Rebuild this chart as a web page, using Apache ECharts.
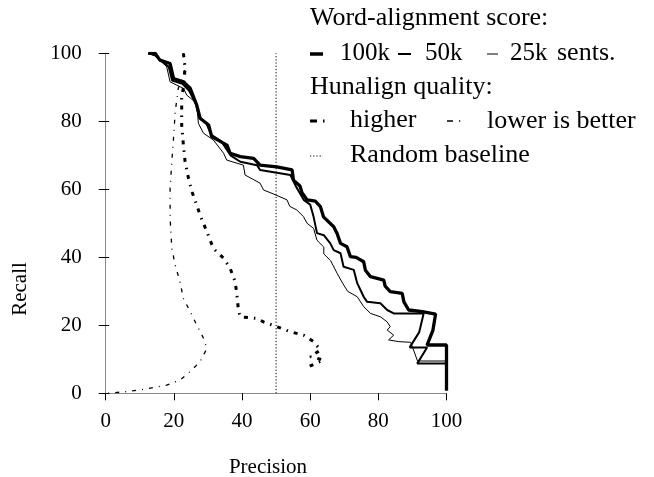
<!DOCTYPE html>
<html>
<head>
<meta charset="utf-8">
<script src="https://cdn.jsdelivr.net/npm/echarts@6/dist/echarts.min.js"></script>
<style>
html, body { margin: 0; padding: 0; background: #fff; }
#prChart { width: 654px; height: 477px; }
</style>
</head>
<body>
<div id="prChart"></div>
<script>
// precision / recall points
const score100k = [[12.5,100],[14.5,100],[15.9,98],[18.9,97],[19.9,92.6],[22.8,91.6],[24.8,89.7],[26.7,84.8],[27.7,80.9],[30.2,78.9],[31.1,75.5],[35.6,73],[36.5,70.6],[39.5,69.6],[43.4,69.1],[45.3,67.1],[50.2,66.6],[54.7,65.7],[55.1,62.7],[57,61],[57.6,59],[59.1,56.9],[61.5,56.5],[63,54.9],[63.9,51.9],[66.9,49],[67.9,47],[68.9,44.1],[70.8,43.1],[71.8,40.2],[73.5,40],[75.7,38.7],[76.2,36.2],[77.7,34.3],[81.6,33.3],[82,31.5],[83.5,29.9],[87,29.4],[87.5,26.9],[88.9,24.5],[92.9,24],[96.8,23.3],[96,18.5],[94.3,14.2],[100,14.2],[100,0.8]];
const score50k = [[12.5,100],[14.5,99.5],[16,98],[18.5,96],[19.5,92],[22.5,91],[24.5,89],[26.5,85],[27.5,81],[29.5,79.5],[31,76],[34,74],[36.6,70],[39.5,68.1],[44.4,67.1],[45.3,65.7],[54.2,64.2],[56,60.5],[58.1,56.9],[60,55.5],[61,51.9],[62,47.1],[64,46.5],[65.9,44.1],[66.9,42.1],[68.9,41.2],[69.8,37.2],[72.8,36.3],[73.8,32.4],[75.7,28.4],[76.7,26.9],[80.6,26.5],[82.6,24.5],[84.5,23.5],[93.3,23.5],[92,18],[89.2,13.5],[94.3,13.5],[92.5,10.5],[91.4,8.8],[100,8.8],[100,0.8]];
const score25k = [[12.5,100],[15,99],[17.9,96],[18.9,91.6],[22.8,89.7],[23.8,87.7],[26.7,85.3],[27.2,79.4],[28.7,76.5],[31.6,74.5],[34.6,70.6],[35.5,68.6],[40.4,67.1],[40.9,64.2],[45.3,61.8],[46.3,59.8],[48.8,58.8],[53.2,56.9],[54,55],[56.1,53.9],[58,52],[59.1,50],[61,48.5],[62,45],[64,43],[64,41],[66,39],[67.9,35.3],[69.5,32.4],[71,30],[73.8,28.4],[75.7,25.5],[77.7,23.5],[80.6,22.5],[82.6,21],[83.5,19.6],[82.6,18.6],[84.5,17.1],[83,15.7],[86,15.2],[89.5,15],[91.5,9.5],[100,9.5],[100,0.8]];
const hunHigher = [[22.8,100],[23.3,95.6],[22.8,90],[22.3,86.8],[22.3,78.9],[22.8,73],[23.3,68.1],[24.3,63.2],[25.3,59.3],[26.7,55.4],[27.7,52.4],[29.7,47.5],[31.6,42.6],[34.6,39.7],[36.5,36.8],[38,32.8],[38.5,28.9],[39,24],[39.5,22.5],[44.4,22],[46.3,21],[50.2,19.6],[54.2,18.1],[58.1,17.1],[61,15.2],[63,12.7],[60,10.8],[63.9,9.8],[59.5,7.8]];
const hunLower = [[22.8,100],[23.3,95.6],[22.3,92],[21.3,89.7],[20.4,82.8],[19.9,75],[19.4,68.1],[18.9,60.3],[18.9,51.5],[19.4,42.6],[20.4,37.7],[21.8,32.8],[22.8,27.9],[24.8,24],[26.7,20.1],[28.7,16.2],[29.7,13.2],[27.7,9.3],[24.8,6.4],[21.8,3.9],[17.9,2.4],[12,1.3],[6.2,0.5],[0.3,0]];
const randomBaseline = [[50,0],[50,100]];

const serif = '"Liberation Serif", "DejaVu Serif", serif';
let prChart = echarts.init(document.getElementById('prChart'));

function lineSeries(name, data, width, type) {
  return {
    name: name,
    type: 'line',
    data: data,
    symbol: 'none',
    animation: false,
    lineStyle: { color: '#000', width: width, type: type || 'solid' }
  };
}

function legendText(text, x, y, size) {
  return {
    type: 'text', x: x, y: y,
    style: { text: text, fill: '#000', font: (size || 26) + 'px ' + serif, verticalAlign: 'middle' }
  };
}
function legendLine(x1, x2, y, width, dash) {
  return {
    type: 'line',
    shape: { x1: x1, y1: y, x2: x2, y2: y },
    style: { stroke: '#000', lineWidth: width, lineDash: dash || null }
  };
}

const option = {
  animation: false,
  grid: { left: 105.7, right: 207.5, top: 53.3, bottom: 83.7 },
  xAxis: {
    type: 'value', min: 0, max: 100, interval: 20,
    splitLine: { show: false },
    axisLine: { lineStyle: { color: '#888', width: 1 } },
    axisTick: { length: 7, lineStyle: { color: '#000' } },
    axisLabel: { color: '#000', fontFamily: serif, fontSize: 21, margin: 18 }
  },
  yAxis: [
    {
      type: 'value', min: 0, max: 100, interval: 20,
      splitLine: { show: false },
      axisLine: { show: true, lineStyle: { color: '#888', width: 1 } },
      axisTick: { show: true, length: 7, lineStyle: { color: '#000' } },
      axisLabel: { color: '#000', fontFamily: serif, fontSize: 21, margin: 24 }
    },
    {
      type: 'value', min: 0, max: 100, interval: 20, position: 'left',
      splitLine: { show: false },
      axisLine: { show: false },
      axisTick: { show: true, inside: true, length: 3.5, lineStyle: { color: '#000' } },
      axisLabel: { show: false }
    }
  ],
  series: [
    lineSeries('Random baseline', randomBaseline, 1, [1.2, 2]),
    lineSeries('lower is better', hunLower, 1.3, [4, 6, 1, 6]),
    lineSeries('higher', hunHigher, 3, [4, 6, 1.5, 6]),
    lineSeries('25k sents.', score25k, 1),
    lineSeries('50k', score50k, 2),
    lineSeries('100k', score100k, 3.3)
  ],
  graphic: [
    {
      type: 'text', x: 268, y: 467,
      style: { text: 'Precision', fill: '#000', font: '21px ' + serif, align: 'center', verticalAlign: 'middle' }
    },
    {
      type: 'text', x: 20, y: 289, rotation: Math.PI / 2,
      style: { text: 'Recall', fill: '#000', font: '21px ' + serif, align: 'center', verticalAlign: 'middle' }
    },
    legendText('Word-alignment score:', 310, 18),
    legendLine(310, 323, 54, 3.5),
    legendText('100k', 340, 53, 25),
    legendLine(398, 411, 54, 2),
    legendText('50k', 425, 53, 25),
    legendLine(487, 498, 54, 1),
    legendText('25k', 510, 53, 25),
    legendText('sents.', 557, 53, 26),
    legendText('Hunalign quality:', 310, 87),
    legendLine(310, 328, 121, 3, [7, 6, 1.5, 6]),
    legendText('higher', 350, 120),
    legendLine(447, 465, 121, 1.3, [6, 6, 1.2, 6]),
    legendText('lower is better', 487, 121),
    legendLine(310, 323, 156, 1, [1.2, 2]),
    legendText('Random baseline', 350, 155)
  ]
};
prChart.setOption(option);
</script>
</body>
</html>
